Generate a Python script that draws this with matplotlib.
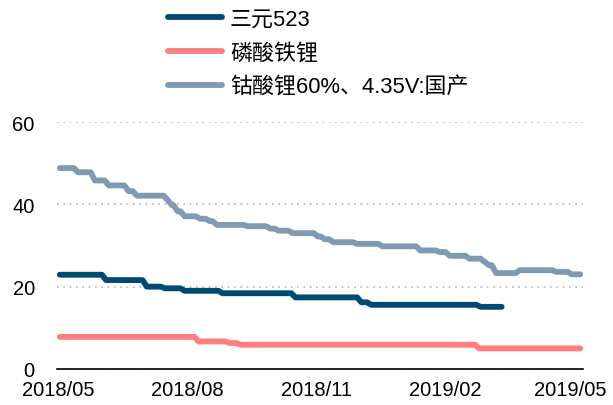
import matplotlib
matplotlib.use("Agg")
import matplotlib.pyplot as plt
import pandas as pd

plt.rcParams['font.family'] = ['Liberation Sans', 'Noto Sans CJK SC', 'DejaVu Sans']

labels = ["三元523", "磷酸铁锂", "钴酸锂60%、4.35V:国产"]
colors = ["#014A72", "#FF7F7E", "#7F9AB3"]

ncm_dates = ["2018-05-02", "2018-06-04", "2018-07-03", "2018-07-16", "2018-07-30",
             "2018-08-26", "2018-10-17", "2018-12-03", "2018-12-10", "2019-02-26",
             "2019-03-13"]
ncm_vals = [22.9, 21.6, 20.0, 19.6, 19.0, 18.4, 17.4, 16.2, 15.6, 15.1, 15.1]

lfp_dates = ["2018-05-02", "2018-08-09", "2018-08-31", "2018-09-08", "2019-02-25",
             "2019-05-08"]
lfp_vals = [7.8, 6.7, 6.3, 5.9, 5.0, 5.0]

lco_dates = ["2018-05-02", "2018-05-15", "2018-05-27", "2018-06-06", "2018-06-20",
             "2018-06-26", "2018-07-18", "2018-07-21", "2018-07-25", "2018-07-30",
             "2018-08-10", "2018-08-17", "2018-08-22", "2018-09-13", "2018-09-29",
             "2018-10-05", "2018-10-15", "2018-11-02", "2018-11-07", "2018-11-13",
             "2018-11-30", "2018-12-18", "2019-01-14", "2019-01-28", "2019-02-04",
             "2019-02-18", "2019-03-01", "2019-03-04", "2019-03-09", "2019-03-26",
             "2019-04-21", "2019-05-02", "2019-05-08"]
lco_vals = [48.8, 47.8, 45.8, 44.6, 43.2, 42.1, 41.0, 39.8, 38.3, 37.1,
            36.5, 35.9, 35.0, 34.7, 34.1, 33.6, 33.0, 32.2, 31.5, 30.8,
            30.4, 29.8, 28.8, 28.4, 27.5, 26.8, 26.0, 25.2, 23.3, 24.0,
            23.6, 23.0, 23.0]

xtick_dates = ["2018-05-01", "2018-08-01", "2018-11-01", "2019-02-01", "2019-05-01"]
xtick_labels = ["2018/05", "2018/08", "2018/11", "2019/02", "2019/05"]
yticks = [0, 20, 40, 60]


def slanted(dates, vals, ramp_days=3):
    """Turn level changes into short sloped transitions (weekly sampling look)."""
    d = pd.to_datetime(dates)
    xs, ys = [d[0]], [vals[0]]
    for i in range(1, len(d)):
        xs.append(d[i] - pd.Timedelta(days=ramp_days))
        ys.append(vals[i - 1])
        xs.append(d[i])
        ys.append(vals[i])
    return xs, ys


fig = plt.figure(figsize=(6.13, 4.06), dpi=100)
ax = fig.add_axes([57/613, 1-370/406, (583-57)/613, (370-123)/406])

series = [(ncm_dates, ncm_vals), (lfp_dates, lfp_vals), (lco_dates, lco_vals)]
handles = []
for (d, v), lab, c in zip(series, labels, colors):
    xs, ys = slanted(d, v)
    h, = ax.plot(xs, ys, color=c, lw=4.2,
                 solid_capstyle='round', solid_joinstyle='round', label=lab)
    handles.append(h)

ax.set_ylim(0, 60)
ax.set_xlim(pd.Timestamp("2018-04-30"), pd.Timestamp("2019-05-10"))
ax.set_yticks(yticks)
ax.set_xticks(pd.to_datetime(xtick_dates))
ax.set_xticklabels(xtick_labels)
ax.tick_params(axis='both', length=0, labelsize=14.5, colors='black')
ax.tick_params(axis='y', pad=16)
ax.tick_params(axis='x', pad=8)
for s in ['left', 'right', 'top']:
    ax.spines[s].set_visible(False)
ax.spines['bottom'].set_color('black')
ax.spines['bottom'].set_linewidth(1.2)
ax.yaxis.grid(True, linestyle=(0, (1, 2.5)), color='#BFBFBF', lw=1.3)
ax.set_axisbelow(True)

fig.legend(handles=handles, labels=labels, loc='upper left',
           bbox_to_anchor=(168/613, 1-10/406), frameon=False, fontsize=15.8,
           handlelength=2.45, handletextpad=0.37, labelspacing=0.58,
           borderaxespad=0, borderpad=0)

fig.savefig("out.png", dpi=100)
